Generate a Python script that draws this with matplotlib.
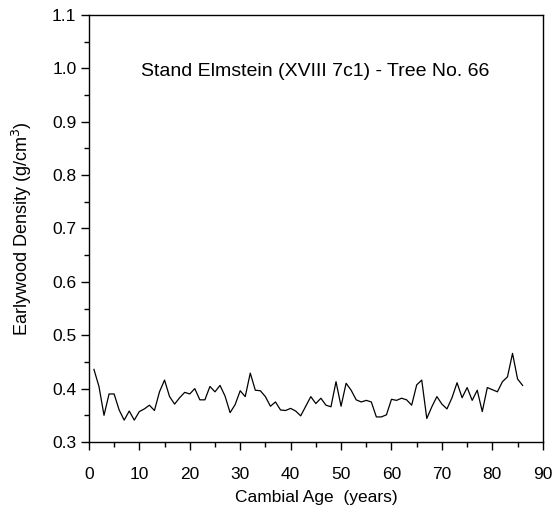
import matplotlib
matplotlib.use("Agg")
import matplotlib.pyplot as plt
from matplotlib.ticker import MultipleLocator, FormatStrFormatter

plt.rcParams['font.family'] = ['Liberation Sans', 'DejaVu Sans']

years = list(range(1, 87))
density = [0.436, 0.404, 0.350, 0.390, 0.390, 0.360, 0.341, 0.358, 0.341, 0.357,
           0.362, 0.369, 0.359, 0.394, 0.416, 0.385, 0.371, 0.383, 0.393, 0.390,
           0.400, 0.379, 0.379, 0.404, 0.394, 0.406, 0.386, 0.355, 0.370, 0.396,
           0.385, 0.429, 0.397, 0.396, 0.385, 0.367, 0.375, 0.360, 0.359, 0.363,
           0.358, 0.349, 0.367, 0.385, 0.372, 0.382, 0.369, 0.366, 0.413, 0.367,
           0.410, 0.397, 0.379, 0.375, 0.378, 0.375, 0.347, 0.347, 0.351, 0.380,
           0.378, 0.382, 0.379, 0.369, 0.407, 0.416, 0.344, 0.366, 0.385, 0.371,
           0.362, 0.383, 0.411, 0.383, 0.402, 0.378, 0.397, 0.357, 0.402, 0.398,
           0.394, 0.413, 0.422, 0.466, 0.418, 0.406]

title_text = "Stand Elmstein (XVIII 7c1) - Tree No. 66"
xlabel = "Cambial Age  (years)"
ylabel = "Earlywood Density (g/cm$^3$)"

fig = plt.figure(figsize=(5.59, 5.11), dpi=100)
ax = fig.add_axes([0.159, 0.135, 0.812, 0.836])
ax.plot(years, density, color='black', linewidth=0.9)
ax.set_xlim(0, 90)
ax.set_ylim(0.3, 1.1)
ax.xaxis.set_major_locator(MultipleLocator(10))
ax.xaxis.set_minor_locator(MultipleLocator(5))
ax.yaxis.set_major_locator(MultipleLocator(0.1))
ax.yaxis.set_minor_locator(MultipleLocator(0.05))
ax.yaxis.set_major_formatter(FormatStrFormatter('%.1f'))
ax.tick_params(which='major', direction='out', length=6, width=1, labelsize=12.5, pad=3)
ax.tick_params(which='minor', direction='out', length=3.5, width=1)
ax.tick_params(axis='x', which='major', pad=12)
for s in ax.spines.values():
    s.set_linewidth(1)
ax.set_xlabel(xlabel, fontsize=12.5, labelpad=6)
ax.set_ylabel(ylabel, fontsize=13, labelpad=13)
ax.text(0.498, 0.867, title_text, transform=ax.transAxes, ha='center', va='center', fontsize=14)
fig.savefig("out.png", dpi=100)
